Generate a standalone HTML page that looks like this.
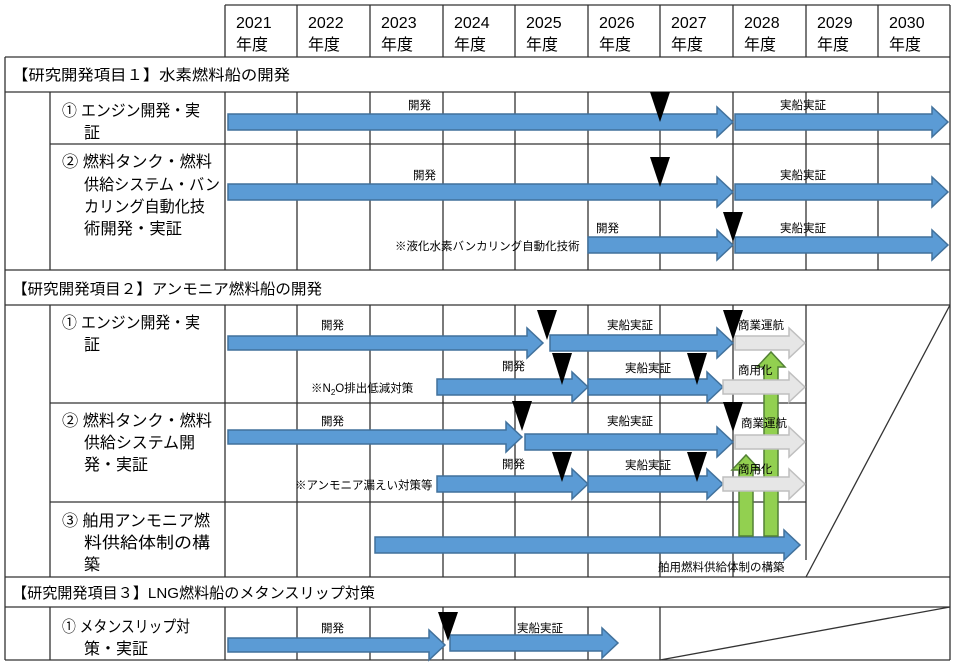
<!DOCTYPE html>
<html><head><meta charset="utf-8"><style>
html,body{margin:0;padding:0;background:#fff}
svg{display:block}
text{font-family:"Liberation Sans","Noto Sans CJK JP",sans-serif;fill:#000}
.y{font-size:16px}
.h{font-size:15px}
.i{font-size:16px}
.s{font-size:11.5px}
.b{fill:#5b9bd5;stroke:#41719c;stroke-width:1.5}
.g{fill:#e6e6e6;stroke:#bfbfbf;stroke-width:1.5}
.gr{fill:#92d050;stroke:#538135;stroke-width:1.5}
.l{stroke:#333;stroke-width:1.3;fill:none}
</style></head><body>
<svg width="955" height="664" viewBox="0 0 955 664">
<g class="l">
<line x1="225" y1="5" x2="950" y2="5"/>
<line x1="5" y1="57" x2="950" y2="57"/>
<line x1="5" y1="92" x2="950" y2="92"/>
<line x1="50" y1="144" x2="950" y2="144"/>
<line x1="5" y1="270" x2="950" y2="270"/>
<line x1="5" y1="305" x2="950" y2="305"/>
<line x1="50" y1="403" x2="806" y2="403"/>
<line x1="50" y1="502" x2="806" y2="502"/>
<line x1="5" y1="577" x2="950" y2="577"/>
<line x1="5" y1="607" x2="950" y2="607"/>
<line x1="5" y1="660" x2="950" y2="660"/>
<line x1="5" y1="57" x2="5" y2="660"/>
<line x1="950" y1="5" x2="950" y2="660"/>
<line x1="225" y1="5" x2="225" y2="57"/>
<line x1="297" y1="5" x2="297" y2="57"/>
<line x1="370" y1="5" x2="370" y2="57"/>
<line x1="443" y1="5" x2="443" y2="57"/>
<line x1="515" y1="5" x2="515" y2="57"/>
<line x1="588" y1="5" x2="588" y2="57"/>
<line x1="660" y1="5" x2="660" y2="57"/>
<line x1="733" y1="5" x2="733" y2="57"/>
<line x1="806" y1="5" x2="806" y2="57"/>
<line x1="878" y1="5" x2="878" y2="57"/>
<line x1="50" y1="92" x2="50" y2="270"/>
<line x1="225" y1="92" x2="225" y2="270"/>
<line x1="297" y1="92" x2="297" y2="270"/>
<line x1="370" y1="92" x2="370" y2="270"/>
<line x1="443" y1="92" x2="443" y2="270"/>
<line x1="515" y1="92" x2="515" y2="270"/>
<line x1="588" y1="92" x2="588" y2="270"/>
<line x1="660" y1="92" x2="660" y2="270"/>
<line x1="733" y1="92" x2="733" y2="270"/>
<line x1="806" y1="92" x2="806" y2="270"/>
<line x1="878" y1="92" x2="878" y2="270"/>
<line x1="50" y1="305" x2="50" y2="577"/>
<line x1="225" y1="305" x2="225" y2="577"/>
<line x1="297" y1="305" x2="297" y2="577"/>
<line x1="370" y1="305" x2="370" y2="577"/>
<line x1="443" y1="305" x2="443" y2="577"/>
<line x1="515" y1="305" x2="515" y2="577"/>
<line x1="588" y1="305" x2="588" y2="577"/>
<line x1="660" y1="305" x2="660" y2="577"/>
<line x1="733" y1="305" x2="733" y2="577"/>
<line x1="806" y1="305" x2="806" y2="560"/>
<line x1="950" y1="305" x2="806" y2="577"/>
<line x1="50" y1="607" x2="50" y2="660"/>
<line x1="225" y1="607" x2="225" y2="660"/>
<line x1="297" y1="607" x2="297" y2="660"/>
<line x1="370" y1="607" x2="370" y2="660"/>
<line x1="443" y1="607" x2="443" y2="660"/>
<line x1="515" y1="607" x2="515" y2="660"/>
<line x1="588" y1="607" x2="588" y2="660"/>
<line x1="660" y1="607" x2="660" y2="660"/>
<line x1="950" y1="607" x2="660" y2="660"/>
</g>
<g class="y">
<text x="236" y="28">2021</text><text x="236" y="50">年度</text>
<text x="308" y="28">2022</text><text x="308" y="50">年度</text>
<text x="381" y="28">2023</text><text x="381" y="50">年度</text>
<text x="454" y="28">2024</text><text x="454" y="50">年度</text>
<text x="526" y="28">2025</text><text x="526" y="50">年度</text>
<text x="599" y="28">2026</text><text x="599" y="50">年度</text>
<text x="671" y="28">2027</text><text x="671" y="50">年度</text>
<text x="744" y="28">2028</text><text x="744" y="50">年度</text>
<text x="817" y="28">2029</text><text x="817" y="50">年度</text>
<text x="889" y="28">2030</text><text x="889" y="50">年度</text>
</g>
<g class="h">
<text x="12" y="80" textLength="278" lengthAdjust="spacingAndGlyphs">【研究開発項目１】水素燃料船の開発</text>
<text x="12" y="294" textLength="310" lengthAdjust="spacingAndGlyphs">【研究開発項目２】アンモニア燃料船の開発</text>
<text x="12" y="598" textLength="363" lengthAdjust="spacingAndGlyphs">【研究開発項目３】LNG燃料船のメタンスリップ対策</text>
</g>
<g class="i">
<text x="62" y="116" textLength="138" lengthAdjust="spacingAndGlyphs">①  エンジン開発・実</text><text x="84" y="138">証</text>
<text x="62" y="167" textLength="150" lengthAdjust="spacingAndGlyphs">②  燃料タンク・燃料</text><text x="84" y="190" textLength="136" lengthAdjust="spacingAndGlyphs">供給システム・バン</text><text x="84" y="212" textLength="121" lengthAdjust="spacingAndGlyphs">カリング自動化技</text><text x="84" y="234" textLength="98" lengthAdjust="spacingAndGlyphs">術開発・実証</text>
<text x="62" y="328" textLength="138" lengthAdjust="spacingAndGlyphs">①  エンジン開発・実</text><text x="84" y="350">証</text>
<text x="62" y="426" textLength="150" lengthAdjust="spacingAndGlyphs">②  燃料タンク・燃料</text><text x="84" y="448" textLength="111" lengthAdjust="spacingAndGlyphs">供給システム開</text><text x="84" y="470" textLength="64" lengthAdjust="spacingAndGlyphs">発・実証</text>
<text x="62" y="526" textLength="148" lengthAdjust="spacingAndGlyphs">③  舶用アンモニア燃</text><text x="84" y="548" textLength="126" lengthAdjust="spacingAndGlyphs">料供給体制の構</text><text x="84" y="570">築</text>
<text x="62" y="632" textLength="128" lengthAdjust="spacingAndGlyphs">①  メタンスリップ対</text><text x="84" y="654" textLength="64" lengthAdjust="spacingAndGlyphs">策・実証</text>
</g>
<g class="b">
<polygon points="228,114 717,114 717,107 733,122 717,137 717,130 228,130"/>
<polygon points="735,114 932,114 932,107 948,122 932,137 932,130 735,130"/>
<polygon points="228,184 717,184 717,177 733,192 717,207 717,200 228,200"/>
<polygon points="735,184 932,184 932,177 948,192 932,207 932,200 735,200"/>
<polygon points="588,237 717,237 717,230 733,245 717,260 717,253 588,253"/>
<polygon points="735,237 932,237 932,230 948,245 932,260 932,253 735,253"/>
<polygon points="228,336 527,336 527,328 543,343 527,358 527,350 228,350"/>
<polygon points="550,335 717,335 717,328 733,343 717,358 717,351 550,351"/>
<polygon points="437,379 572,379 572,372 588,387 572,402 572,395 437,395"/>
<polygon points="588,379 707,379 707,372 723,387 707,402 707,395 588,395"/>
<polygon points="228,430 506,430 506,422 522,437 506,452 506,444 228,444"/>
<polygon points="525,434 717,434 717,427 733,442 717,457 717,450 525,450"/>
<polygon points="437,476 572,476 572,469 588,484 572,499 572,492 437,492"/>
<polygon points="588,476 707,476 707,469 723,484 707,499 707,492 588,492"/>
<polygon points="375,537 784,537 784,530 800,545 784,560 784,553 375,553"/>
<polygon points="228,638 429,638 429,630 445,645 429,660 429,652 228,652"/>
<polygon points="450,635 602,635 602,628 618,643 602,658 602,651 450,651"/>
</g>
<g class="gr">
<polygon points="739,536 739,470 732,470 746,455 760,470 753,470 753,536"/>
<polygon points="764,536 764,367 757,367 771,352 785,367 778,367 778,536"/>
</g>
<g class="g">
<polygon points="735,336 789,336 789,328 805,343 789,358 789,350 735,350"/>
<polygon points="723,380 789,380 789,372 805,387 789,402 789,394 723,394"/>
<polygon points="735,435 789,435 789,427 805,442 789,457 789,449 735,449"/>
<polygon points="723,477 789,477 789,469 805,484 789,499 789,491 723,491"/>
</g>
<g fill="#000">
<polygon points="650,92 670,92 660,122"/>
<polygon points="650,157 670,157 660,187"/>
<polygon points="723,212 743,212 733,242"/>
<polygon points="537,310 557,310 547,340"/>
<polygon points="723,310 743,310 733,340"/>
<polygon points="552,353 572,353 562,385"/>
<polygon points="687,353 707,353 697,385"/>
<polygon points="512,401 532,401 522,431"/>
<polygon points="723,402 743,402 733,432"/>
<polygon points="552,452 572,452 562,482"/>
<polygon points="687,452 707,452 697,482"/>
<polygon points="438,612 458,612 448,641"/>
</g>
<g class="s">
<text x="408" y="109">開発</text><text x="780" y="109">実船実証</text>
<text x="413" y="179">開発</text><text x="780" y="179">実船実証</text>
<text x="596" y="232">開発</text><text x="780" y="232">実船実証</text>
<text x="395" y="250">※液化水素バンカリング自動化技術</text>
<text x="321" y="329">開発</text><text x="607" y="329">実船実証</text><text x="738" y="329">商業運航</text>
<text x="502" y="370">開発</text><text x="625" y="372">実船実証</text><text x="738" y="374">商用化</text>
<text x="311" y="392">※N<tspan font-size="8" dy="3">2</tspan><tspan dy="-3">O排出低減対策</tspan></text>
<text x="321" y="425">開発</text><text x="607" y="425">実船実証</text><text x="741" y="427">商業運航</text>
<text x="502" y="468">開発</text><text x="625" y="469">実船実証</text><text x="738" y="473">商用化</text>
<text x="295" y="489">※アンモニア漏えい対策等</text>
<text x="658" y="571">舶用燃料供給体制の構築</text>
<text x="321" y="632">開発</text><text x="517" y="632">実船実証</text>
</g>
</svg>
</body></html>
